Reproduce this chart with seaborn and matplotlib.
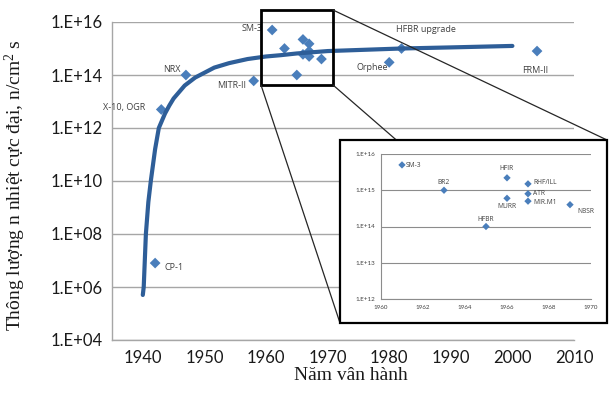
import numpy as np
import pandas as pd
import matplotlib
matplotlib.use('Agg')
import matplotlib.pyplot as plt
from matplotlib.lines import Line2D
from matplotlib.patches import Rectangle
import seaborn as sns

# Reactor data (year of operation, max thermal neutron flux)
names = ['CP-1', 'X-10, OGR', 'NRX', 'MITR-II', 'SM-3', 'BR2', 'HFBR', 'HFIR', 'MURR',
         'RHF/ILL', 'ATR', 'MIR.M1', 'NBSR', 'Orphee', 'HFBR upgrade', 'FRM-II']
years = [1942, 1943, 1947, 1958, 1961, 1963, 1965, 1966, 1966,
         1967, 1967, 1967, 1969, 1980, 1982, 2004]
flux = [8e6, 5e12, 1e14, 6e13, 5e15, 1e15, 1e14, 2.2e15, 6e14,
        1.5e15, 8e14, 5e14, 4e14, 3e14, 1e15, 8e14]

# trend line
trend_years = [1940.0, 1940.15, 1940.5, 1940.9, 1941.3, 1942.0, 1942.6, 1943.6, 1944.3,
               1945.0, 1946.8, 1948.5, 1951.6, 1954.0, 1957.0, 1960.0, 1962.4, 1965.0,
               1970.0, 1982.0, 1990.0, 2000.0]
trend_flux = [5e5, 1e6, 1e8, 1.6e9, 1e10, 1.6e11, 1e12, 3.5e12, 7e12,
              1.3e13, 4e13, 8e13, 1.9e14, 2.8e14, 4e14, 5e14, 5.6e14, 6.5e14,
              8e14, 1e15, 1.1e15, 1.25e15]

main_yticks = [1e4, 1e6, 1e8, 1e10, 1e12, 1e14, 1e16]
main_yticklabels = ['1.E+04', '1.E+06', '1.E+08', '1.E+10', '1.E+12', '1.E+14', '1.E+16']
main_xticks = [1940, 1950, 1960, 1970, 1980, 1990, 2000, 2010]
inset_yticks = [1e12, 1e13, 1e14, 1e15, 1e16]
inset_yticklabels = ['1.E+12', '1.E+13', '1.E+14', '1.E+15', '1.E+16']
inset_xticks = [1960, 1962, 1964, 1966, 1968, 1970]

xlabel = 'Năm vân hành'
ylabel = 'Thông lượng n nhiệt cực đại, n/cm$^{2}$ s'

df = pd.DataFrame({'name': names, 'year': years, 'flux': flux})
trend = pd.DataFrame({'year': trend_years, 'flux': trend_flux})

# label placement: (dx px, dy px, ha)
main_labels = {
    'CP-1': (9, -4, 'left'),
    'X-10, OGR': (-16, 2, 'right'),
    'NRX': (-5, 5, 'right'),
    'MITR-II': (-8, -5, 'right'),
    'SM-3': (-10, 1, 'right'),
    'Orphee': (-1, -5, 'right'),
    'HFBR upgrade': (-6, 19, 'left'),
    'FRM-II': (-2, -19, 'center'),
}
inset_labels = {
    'SM-3': (4, -1, 'left'),
    'BR2': (0, 8, 'center'),
    'HFBR': (0, 7, 'center'),
    'HFIR': (0, 9, 'center'),
    'MURR': (0, -8, 'center'),
    'RHF/ILL': (5, 1, 'left'),
    'ATR': (5, 0, 'left'),
    'MIR.M1': (5, -1, 'left'),
    'NBSR': (7, -7, 'left'),
}

sns.set_style('white')
plt.rcParams['font.family'] = ['Lato', 'DejaVu Sans']
plt.rcParams['mathtext.fontset'] = 'custom'
plt.rcParams['mathtext.rm'] = 'Liberation Serif'
plt.rcParams['mathtext.it'] = 'Liberation Serif'

W, H = 609, 399
fig = plt.figure(figsize=(W / 100, H / 100), dpi=100)

def fx(px):
    return px / W

def fy(py):
    return 1 - py / H

point_color = '#4a7ebb'
line_color = '#2e5e98'
grid_color = '#a6a6a6'
text_color = '#404040'

# main chart
ax = fig.add_axes([fx(112), fy(340), fx(574) - fx(112), fy(22) - fy(340)])
ax.set_zorder(0)
ax.set_yscale('log')
ax.set_xlim(1935, 2010)
ax.set_ylim(1e4, 1e16)
ax.set_yticks(main_yticks)
ax.set_yticklabels(main_yticklabels)
ax.yaxis.set_minor_locator(matplotlib.ticker.NullLocator())
ax.set_xticks(main_xticks)
ax.set_xticklabels([str(t) for t in main_xticks])
ax.tick_params(axis='both', labelsize=12, colors='#595959', length=4, width=0.8,
               labelcolor='#1a1a1a', pad=3)
ax.grid(axis='y', color=grid_color, lw=1)
for s in ['top', 'right']:
    ax.spines[s].set_visible(False)
for s in ['left', 'bottom']:
    ax.spines[s].set_color(grid_color)
    ax.spines[s].set_linewidth(1)

sns.scatterplot(data=df, x='year', y='flux', marker='D', s=30, color=point_color,
                edgecolor='none', ax=ax, zorder=3)
sns.lineplot(data=trend, x='year', y='flux', color=line_color, lw=3, ax=ax,
             zorder=4, sort=False)
ax.set_xlabel('')
ax.set_ylabel('')

for n, x, y in zip(names, years, flux):
    if n in main_labels:
        dx, dy, ha = main_labels[n]
        ax.annotate(n, (x, y), xytext=(dx, dy), textcoords='offset pixels',
                    ha=ha, va='center', fontsize=6.5, color=text_color,
                    family=['Open Sans', 'DejaVu Sans'])

# zoom box on the main chart
box = Rectangle((fx(261), fy(85)), fx(333) - fx(261), fy(10) - fy(85),
                transform=fig.transFigure, fill=False, ec='black', lw=2, zorder=5)
fig.add_artist(box)

# connector lines to the inset
for (x0, y0), (x1, y1) in [((333, 10), (607, 140)), ((333, 85), (607, 323)),
                           ((261, 85), (340, 323))]:
    fig.add_artist(Line2D([fx(x0), fx(x1)], [fy(y0), fy(y1)], color='#262626',
                          lw=0.9, transform=fig.transFigure, zorder=6))

frame = Rectangle((fx(340), fy(323)), fx(607) - fx(340), fy(140) - fy(323),
                  transform=fig.transFigure, fc='white', ec='black', lw=1.6, zorder=7)
fig.add_artist(frame)

# inset chart
ins = fig.add_axes([fx(381), fy(299), fx(591) - fx(381), fy(154) - fy(299)])
ins.set_zorder(8)
ins.patch.set_alpha(0)
ins.set_yscale('log')
ins.set_xlim(1960, 1970)
ins.set_ylim(1e12, 1e16)
ins.set_yticks(inset_yticks)
ins.set_yticklabels(inset_yticklabels)
ins.yaxis.set_minor_locator(matplotlib.ticker.NullLocator())
ins.set_xticks(inset_xticks)
ins.set_xticklabels([str(t) for t in inset_xticks])
ins.tick_params(axis='both', labelsize=4.5, colors='#8c8c8c', length=2.5, width=0.6,
                labelcolor='#404040', pad=2)
ins.grid(axis='y', color='#8c8c8c', lw=0.8)
for s in ['top', 'right']:
    ins.spines[s].set_visible(False)
for s in ['left', 'bottom']:
    ins.spines[s].set_color('#8c8c8c')
    ins.spines[s].set_linewidth(0.8)

sub = df[(df['year'] >= 1960) & (df['year'] <= 1970)]
sns.scatterplot(data=sub, x='year', y='flux', marker='D', s=14, color=point_color,
                edgecolor='none', ax=ins, zorder=3, clip_on=False)
ins.set_xlabel('')
ins.set_ylabel('')
for n, x, y in zip(sub['name'], sub['year'], sub['flux']):
    dx, dy, ha = inset_labels[n]
    ins.annotate(n, (x, y), xytext=(dx, dy), textcoords='offset pixels',
                 ha=ha, va='center', fontsize=4.8, color=text_color,
                 family=['Open Sans', 'DejaVu Sans'])

# axis titles
fig.text(fx(351), fy(375), xlabel, ha='center', va='center', fontsize=14,
         family=['Liberation Serif', 'DejaVu Serif'], color='#1a1a1a')
fig.text(fx(15), fy(185), ylabel, ha='center', va='center', fontsize=14,
         rotation=90, family=['Liberation Serif', 'DejaVu Serif'], color='#1a1a1a')

fig.savefig('out.png', dpi=100)
